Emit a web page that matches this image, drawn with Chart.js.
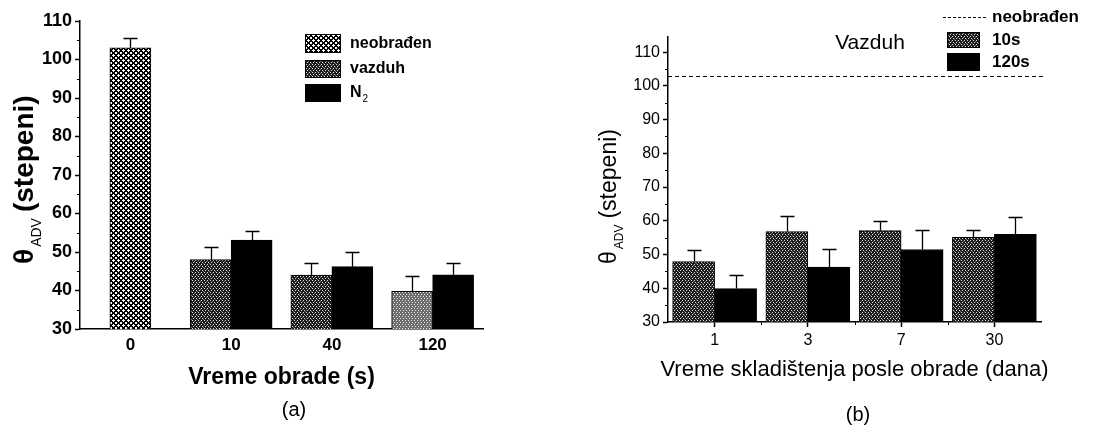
<!DOCTYPE html>
<html>
<head>
<meta charset="utf-8">
<script src="https://cdn.jsdelivr.net/npm/chart.js@4.4.1/dist/chart.umd.min.js"></script>
<style>
  body { margin: 0; background: #fff; }
  #wrap { position: relative; width: 1095px; height: 426px; }
  .panel { position: absolute; top: 0; height: 426px; }
  #panelA { left: 0; width: 547px; }
  #panelB { left: 547px; width: 548px; }
</style>
</head>
<body>
<div id="wrap">
  <div class="panel" id="panelA"><canvas id="chartA"></canvas></div>
  <div class="panel" id="panelB"><canvas id="chartB"></canvas></div>
</div>
<script>
// (a) ugao kvasenja u zavisnosti od vremena obrade
const kategorijeA = ['0', '10', '40', '120'];
const neobradjenA = [103, null, null, null];
const neobradjenAErr = [2.7, null, null, null];
const vazduhA = [null, 48, 44, 39.8];
const vazduhAErr = [null, 3.2, 3.2, 4.0];
const azotA = [null, 53.1, 46.2, 44.1];
const azotAErr = [null, 2.4, 3.9, 3.0];
const yTicksA = [30, 40, 50, 60, 70, 80, 90, 100, 110];

// (b) starenje posle obrade u vazduhu
const kategorijeB = ['1', '3', '7', '30'];
const vazduh10s = [47.9, 56.8, 57.1, 55.1];
const vazduh10sErr = [3.4, 4.6, 2.7, 2.2];
const vazduh120s = [39.9, 46.3, 51.5, 56.0];
const vazduh120sErr = [4.0, 5.3, 5.8, 5.0];
const neobradjenB = 103;
const yTicksB = [30, 40, 50, 60, 70, 80, 90, 100, 110];

const FONT = "'Liberation Sans', Arial, sans-serif";
Chart.defaults.font.family = FONT;
Chart.defaults.color = '#000';

// teksture za stubice
function napraviTeksturu(w, h, crtaj) {
  const c = document.createElement('canvas');
  c.width = w; c.height = h;
  const g = c.getContext('2d');
  crtaj(g);
  return g.createPattern(c, 'repeat');
}
const mreza = napraviTeksturu(5, 5, g => {
  g.fillStyle = '#fff';
  g.fillRect(0, 0, 5, 5);
  g.fillStyle = '#000';
  for (let x = 0; x < 5; x++) {
    for (let y = 0; y < 5; y++) {
      const a = (x + y) % 5, b = (x - y + 5) % 5;
      if (a < 2 || b < 2) g.fillRect(x, y, 1, 1);
    }
  }
});
function tackice(pozadina, svetlo) {
  return napraviTeksturu(6, 4, g => {
    g.fillStyle = pozadina;
    g.fillRect(0, 0, 6, 4);
    g.fillStyle = svetlo;
    [[0, 0], [3, 0], [1, 2], [4, 2]].forEach(p => g.fillRect(p[0], p[1], 1, 1));
    g.fillStyle = '#777';
    [[2, 1], [5, 3]].forEach(p => g.fillRect(p[0], p[1], 1, 1));
  });
}
const tamneTacke = tackice('#1c1c1c', '#ddd');
const svetleTacke = tackice('#6a6a6a', '#eee');

const errorBarsPlugin = {
  id: 'errorBars',
  afterDatasetsDraw(chart) {
    const ctx = chart.ctx;
    const yScale = chart.scales.y;
    ctx.save();
    ctx.strokeStyle = '#000';
    ctx.lineWidth = 1.3;
    chart.data.datasets.forEach((ds, i) => {
      if (!ds.errors) return;
      const meta = chart.getDatasetMeta(i);
      meta.data.forEach((bar, j) => {
        const v = ds.data[j], e = ds.errors[j];
        if (v == null || e == null) return;
        const x = Math.round(bar.x) + 0.5;
        const yTop = Math.round(yScale.getPixelForValue(v + e)) + 0.5;
        ctx.beginPath();
        ctx.moveTo(x, bar.y);
        ctx.lineTo(x, yTop);
        ctx.moveTo(x - 7, yTop);
        ctx.lineTo(x + 7, yTop);
        ctx.stroke();
      });
    });
    ctx.restore();
  }
};

// sitne podele na osama
const minorTicksPlugin = {
  id: 'minorTicks',
  afterDraw(chart, args, opts) {
    const ctx = chart.ctx;
    const y = chart.scales.y, x = chart.scales.x;
    const area = chart.chartArea;
    ctx.save();
    ctx.strokeStyle = '#000';
    ctx.lineWidth = 1;
    for (let v = y.min + 5; v < y.max; v += 10) {
      const py = Math.round(y.getPixelForValue(v)) + 0.5;
      ctx.beginPath();
      ctx.moveTo(area.left, py);
      ctx.lineTo(area.left - 3, py);
      ctx.stroke();
    }
    if (opts.xGranice) {
      for (let i = 0; i < x.ticks.length - 1; i++) {
        const px = Math.round((x.getPixelForValue(i) + x.getPixelForValue(i + 1)) / 2) + 0.5;
        ctx.beginPath();
        ctx.moveTo(px, area.bottom);
        ctx.lineTo(px, area.bottom + 3);
        ctx.stroke();
      }
    }
    ctx.restore();
  }
};

const refLinePlugin = {
  id: 'refLine',
  afterDatasetsDraw(chart, args, opts) {
    if (opts.value == null) return;
    const ctx = chart.ctx;
    const area = chart.chartArea;
    const py = Math.round(chart.scales.y.getPixelForValue(opts.value)) + 0.5;
    ctx.save();
    ctx.strokeStyle = '#000';
    ctx.lineWidth = 1;
    ctx.setLineDash([4, 3]);
    ctx.beginPath();
    ctx.moveTo(area.left, py);
    ctx.lineTo(area.right + 4, py);
    ctx.stroke();
    ctx.restore();
  }
};

function yNaslov(ctx, cx, yDole, vel, tezina) {
  ctx.save();
  ctx.translate(cx, yDole);
  ctx.rotate(-Math.PI / 2);
  ctx.textBaseline = 'middle';
  ctx.textAlign = 'left';
  ctx.font = tezina + ' ' + vel + 'px ' + FONT;
  ctx.fillText('θ', 0, 0);
  let x = ctx.measureText('θ').width + 2;
  const mali = Math.round(vel * 0.5);
  ctx.font = mali + 'px ' + FONT;
  ctx.fillText('ADV', x, vel * 0.42);
  x += ctx.measureText('ADV').width + 6;
  ctx.font = tezina + ' ' + vel + 'px ' + FONT;
  ctx.fillText('(stepeni)', x, 0);
  ctx.restore();
}

// natpisi i legenda
const tekstPlugin = {
  id: 'tekst',
  afterDraw(chart, args, o) {
    const ctx = chart.ctx;
    const area = chart.chartArea;
    ctx.save();
    ctx.fillStyle = '#000';
    yNaslov(ctx, o.yX, o.yDole, o.yVel, o.tezina);
    ctx.textAlign = 'center';
    ctx.textBaseline = 'middle';
    ctx.font = o.tezina + ' ' + o.xVel + 'px ' + FONT;
    ctx.fillText(o.xNaslov, (area.left + area.right) / 2 + (o.xPomak || 0), o.xY);
    ctx.font = '20px ' + FONT;
    ctx.fillText(o.oznaka, o.oznakaX, o.oznakaY);
    if (o.naslov) {
      ctx.font = '21px ' + FONT;
      ctx.fillText(o.naslov, o.naslovX, o.naslovY);
    }
    // legenda
    const L = o.legenda;
    ctx.textAlign = 'left';
    L.stavke.forEach(st => {
      if (st.linija) {
        ctx.save();
        ctx.setLineDash([3, 2]);
        ctx.lineWidth = 1;
        ctx.beginPath();
        ctx.moveTo(L.linijaX1, st.y + 0.5);
        ctx.lineTo(L.linijaX2, st.y + 0.5);
        ctx.stroke();
        ctx.restore();
        ctx.font = 'bold ' + L.vel + 'px ' + FONT;
        ctx.fillText(st.tekst, L.tekstX, st.y);
        return;
      }
      const ds = chart.data.datasets[st.ds];
      const bg = Array.isArray(ds.backgroundColor) ? ds.backgroundColor[1] : ds.backgroundColor;
      ctx.fillStyle = bg;
      ctx.fillRect(L.x, st.y, L.w, st.h);
      ctx.strokeStyle = '#000';
      ctx.lineWidth = 1;
      ctx.strokeRect(L.x + 0.5, st.y + 0.5, L.w - 1, st.h - 1);
      ctx.fillStyle = '#000';
      ctx.font = 'bold ' + L.vel + 'px ' + FONT;
      const t = ds.label;
      const ys = st.y + st.h / 2;
      if (t === 'N2') {
        ctx.fillText('N', L.tekstX, ys);
        const w = ctx.measureText('N').width;
        ctx.font = Math.round(L.vel * 0.6) + 'px ' + FONT;
        ctx.fillText('2', L.tekstX + w + 1, ys + 6);
      } else {
        ctx.fillText(t, L.tekstX, ys);
      }
    });
    ctx.restore();
  }
};

function osaY(min, max, tickovi, sirina, tezina, vel) {
  return {
    min: min, max: max,
    afterBuildTicks: s => { s.ticks = tickovi.map(v => ({ value: v })); },
    afterFit: s => { s.width = sirina; },
    ticks: { font: { size: vel, weight: tezina }, padding: 3, color: '#000' },
    grid: { drawOnChartArea: false, tickLength: 5, tickColor: '#000', tickWidth: 1.5 },
    border: { color: '#000', width: 1.5 }
  };
}

const chartA = new Chart(document.getElementById('chartA'), {
  type: 'bar',
  data: {
    labels: kategorijeA,
    datasets: [
      { label: 'neobrađen', data: neobradjenA, errors: neobradjenAErr, backgroundColor: mreza },
      { label: 'vazduh', data: vazduhA, errors: vazduhAErr,
        backgroundColor: [tamneTacke, tamneTacke, tamneTacke, svetleTacke] },
      { label: 'N2', data: azotA, errors: azotAErr, backgroundColor: '#000' }
    ]
  },
  options: {
    responsive: true,
    maintainAspectRatio: false,
    animation: false,
    layout: { padding: { top: 21, right: 64, left: 0, bottom: 0 } },
    datasets: { bar: { barThickness: 41, skipNull: true, borderColor: '#000', borderWidth: 1 } },
    scales: {
      x: {
        afterFit: s => { s.height = 426 - 329; },
        ticks: { font: { size: 17, weight: 'bold' }, padding: 6, color: '#000' },
        grid: { drawOnChartArea: false, drawTicks: false },
        border: { color: '#000', width: 1.5 }
      },
      y: osaY(30, 110, yTicksA, 80, 'bold', 18)
    },
    plugins: {
      legend: { display: false },
      tooltip: { enabled: false },
      minorTicks: {},
      tekst: {
        tezina: 'bold',
        yX: 25, yDole: 264, yVel: 28,
        xNaslov: 'Vreme obrade (s)', xVel: 23, xY: 378,
        oznaka: '(a)', oznakaX: 294, oznakaY: 410,
        legenda: {
          x: 305, w: 36, tekstX: 350, vel: 16,
          stavke: [{ ds: 0, y: 34, h: 19 }, { ds: 1, y: 60, h: 18 }, { ds: 2, y: 84, h: 18 }]
        }
      }
    }
  },
  plugins: [errorBarsPlugin, minorTicksPlugin, tekstPlugin]
});

const chartB = new Chart(document.getElementById('chartB'), {
  type: 'bar',
  data: {
    labels: kategorijeB,
    datasets: [
      { label: '10s', data: vazduh10s, errors: vazduh10sErr, backgroundColor: tamneTacke },
      { label: '120s', data: vazduh120s, errors: vazduh120sErr, backgroundColor: '#000' }
    ]
  },
  options: {
    responsive: true,
    maintainAspectRatio: false,
    animation: false,
    layout: { padding: { top: 37, right: 54, left: 0, bottom: 0 } },
    datasets: { bar: { barThickness: 42, borderColor: '#000', borderWidth: 1 } },
    scales: {
      x: {
        afterFit: s => { s.height = 426 - 322; },
        ticks: { font: { size: 16 }, padding: 4, color: '#000' },
        grid: { drawOnChartArea: false, offset: false, tickLength: 5, tickColor: '#000', tickWidth: 1.5 },
        border: { color: '#000', width: 1.5 }
      },
      y: osaY(30, 114.5, yTicksB, 121, 'normal', 16)
    },
    plugins: {
      legend: { display: false },
      tooltip: { enabled: false },
      minorTicks: { xGranice: true },
      refLine: { value: neobradjenB },
      tekst: {
        tezina: 'normal',
        yX: 63, yDole: 264, yVel: 23,
        xNaslov: 'Vreme skladištenja posle obrade (dana)', xVel: 22, xY: 370, xPomak: 0,
        oznaka: '(b)', oznakaX: 311, oznakaY: 415,
        naslov: 'Vazduh', naslovX: 323, naslovY: 43,
        legenda: {
          x: 400, w: 33, tekstX: 445, vel: 17,
          linijaX1: 396, linijaX2: 441,
          stavke: [{ linija: true, y: 17, tekst: 'neobrađen' }, { ds: 0, y: 32, h: 16 }, { ds: 1, y: 53, h: 18 }]
        }
      }
    }
  },
  plugins: [errorBarsPlugin, minorTicksPlugin, refLinePlugin, tekstPlugin]
});
</script>
</body>
</html>
